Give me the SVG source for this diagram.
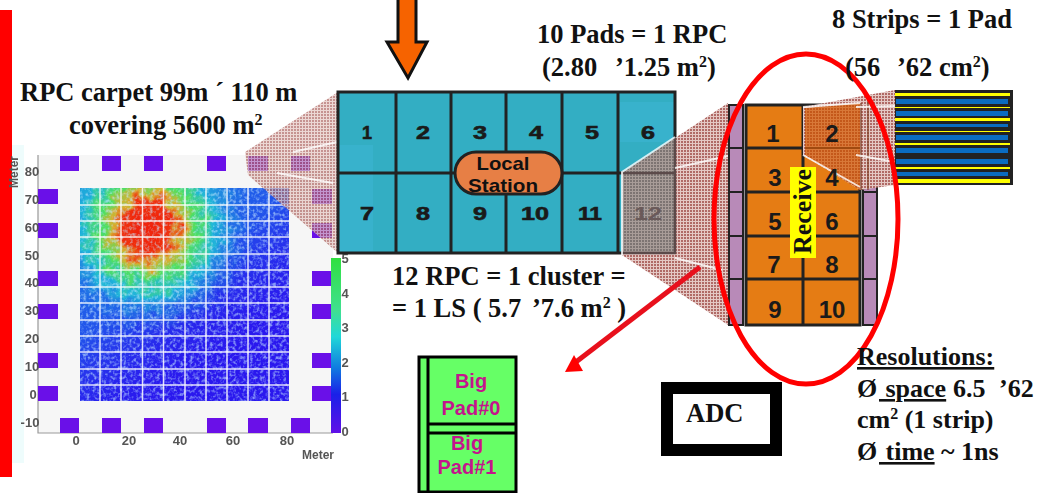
<svg xmlns="http://www.w3.org/2000/svg" width="1049" height="493" viewBox="0 0 1049 493">
<style>
.t{font-family:"Liberation Serif",serif;font-weight:bold;font-size:26.5px;fill:#111}
.s{font-size:16px}
.n{font-family:"Liberation Sans",sans-serif;font-weight:bold;text-anchor:middle;fill:#1a1a1a}
.r{font-size:18px;stroke:#1a1a1a;stroke-width:.6}.p{font-size:24px}
.m{font-family:"Liberation Sans",sans-serif;font-weight:bold;font-size:20px;fill:#c4148c;text-anchor:middle}
.ax{font-family:"Liberation Sans",sans-serif;font-weight:bold;font-size:13px;fill:#555;text-anchor:middle}
.sq{fill:#6a10e8}
.gl{stroke:#fff;stroke-width:1.5;opacity:.85}
.cell{fill:none;stroke:#222;stroke-width:3}
.wl{stroke:#fff;stroke-width:2;opacity:.8;fill:none}
</style>
<defs>
<pattern id="ht" width="3" height="3" patternUnits="userSpaceOnUse"><rect width="3" height="3" fill="#e4c8c4"/><rect width="2" height="2" fill="#b06a66"/></pattern>
<pattern id="hg" width="3" height="3" patternUnits="userSpaceOnUse"><rect width="3" height="3" fill="#a89c98"/><rect width="2" height="2" fill="#7d7472"/></pattern>
<pattern id="ho" width="3" height="3" patternUnits="userSpaceOnUse"><rect width="3" height="3" fill="#d87838"/><rect width="2" height="2" fill="#c4581a"/></pattern>
<radialGradient id="heat" gradientUnits="userSpaceOnUse" cx="148" cy="228" r="105">
<stop offset="0" stop-color="#f02010"/><stop offset=".24" stop-color="#f03010"/><stop offset=".34" stop-color="#d8b030"/><stop offset=".46" stop-color="#50e060"/><stop offset=".64" stop-color="#20b8d8"/><stop offset="1" stop-color="#2060e8" stop-opacity="0"/>
</radialGradient>
<linearGradient id="wash" x1="0" y1="0" x2=".6" y2=".9">
<stop offset="0" stop-color="#18a8e0"/><stop offset=".55" stop-color="#2060ea"/><stop offset="1" stop-color="#2a18ee" stop-opacity="0"/>
</linearGradient>
<linearGradient id="bar" x1="0" y1="0" x2="0" y2="1">
<stop offset="0" stop-color="#30e040"/><stop offset=".3" stop-color="#40e090"/><stop offset=".45" stop-color="#20d8d8"/><stop offset=".62" stop-color="#1080e0"/><stop offset=".78" stop-color="#1a20e8"/><stop offset="1" stop-color="#6010e8"/>
</linearGradient>
<clipPath id="field"><rect x="80" y="188" width="209" height="213"/></clipPath>
<filter id="rough" x="0" y="0" width="1" height="1"><feTurbulence type="fractalNoise" baseFrequency=".09" numOctaves="3" seed="7"/><feDisplacementMap in="SourceGraphic" scale="26" xChannelSelector="R" yChannelSelector="G"/></filter>
<filter id="speck" x="0" y="0" width="1" height="1"><feTurbulence type="fractalNoise" baseFrequency=".3" numOctaves="2" seed="4"/><feColorMatrix values="0 0 0 0 .55 0 0 0 0 .8 0 0 0 0 1 3 0 0 0 -1.35"/></filter>
<filter id="soft"><feGaussianBlur stdDeviation=".5"/></filter>
</defs>
<g id="red-bar"><rect x="0" y="10" width="12" height="467" fill="#f00"/><rect x="12" y="145" width="12" height="318" fill="#eefcfc"/></g>
<g id="heatmap">
<rect x="38" y="155" width="295" height="278" fill="#f6f6f6"/>
<path d="M38 155V433H333" fill="none" stroke="#999" stroke-width="1.2"/>
<g class="sq">
<rect x="60" y="156" width="19" height="15"/><rect x="102" y="156" width="19" height="15"/><rect x="144" y="156" width="19" height="15"/><rect x="207" y="156" width="19" height="15"/><rect x="248" y="156" width="20" height="15"/><rect x="291" y="156" width="19" height="15"/>
<rect x="60" y="418" width="19" height="15"/><rect x="102" y="418" width="19" height="15"/><rect x="144" y="418" width="19" height="15"/><rect x="207" y="418" width="19" height="15"/><rect x="248" y="418" width="20" height="15"/><rect x="291" y="418" width="19" height="15"/>
<rect x="38" y="189" width="20" height="15"/><rect x="38" y="223" width="20" height="15"/><rect x="38" y="271" width="20" height="15"/><rect x="38" y="304" width="20" height="15"/><rect x="38" y="353" width="20" height="15"/><rect x="38" y="386" width="20" height="15"/>
<rect x="312" y="189" width="20" height="15"/><rect x="312" y="223" width="20" height="15"/><rect x="312" y="271" width="20" height="15"/><rect x="312" y="304" width="20" height="15"/><rect x="312" y="353" width="20" height="15"/><rect x="312" y="386" width="20" height="15"/>
</g>
<rect x="80" y="188" width="209" height="213" fill="#2a18ee"/>
<g clip-path="url(#field)">
<rect x="80" y="188" width="209" height="213" fill="url(#wash)" opacity=".8"/>
<g filter="url(#rough)"><rect x="40" y="150" width="280" height="270" fill="url(#heat)"/></g>
<rect x="80" y="188" width="209" height="213" filter="url(#speck)" opacity=".6"/>
</g>
<g>
<line class="gl" x1="100" y1="188" x2="100" y2="401"/><line class="gl" x1="121" y1="188" x2="121" y2="401"/><line class="gl" x1="142.500" y1="188" x2="142.500" y2="401"/><line class="gl" x1="163.500" y1="188" x2="163.500" y2="401"/><line class="gl" x1="185" y1="188" x2="185" y2="401"/><line class="gl" x1="206" y1="188" x2="206" y2="401"/><line class="gl" x1="227" y1="188" x2="227" y2="401"/><line class="gl" x1="248" y1="188" x2="248" y2="401"/><line class="gl" x1="269" y1="188" x2="269" y2="401"/>
<line class="gl" x1="80" y1="205" x2="289" y2="205"/><line class="gl" x1="80" y1="221" x2="289" y2="221"/><line class="gl" x1="80" y1="237" x2="289" y2="237"/><line class="gl" x1="80" y1="254" x2="289" y2="254"/><line class="gl" x1="80" y1="270" x2="289" y2="270"/><line class="gl" x1="80" y1="287" x2="289" y2="287"/><line class="gl" x1="80" y1="303" x2="289" y2="303"/><line class="gl" x1="80" y1="320" x2="289" y2="320"/><line class="gl" x1="80" y1="336" x2="289" y2="336"/><line class="gl" x1="80" y1="352" x2="289" y2="352"/><line class="gl" x1="80" y1="369" x2="289" y2="369"/><line class="gl" x1="80" y1="385" x2="289" y2="385"/>
</g>
<rect x="331" y="258" width="10" height="175" fill="url(#bar)"/>
<g class="ax" filter="url(#soft)">
<text x="32" y="176">80</text><text x="32" y="204">70</text><text x="32" y="232">60</text><text x="32" y="260">50</text><text x="32" y="287">40</text><text x="32" y="315">30</text><text x="32" y="343">20</text><text x="32" y="371">10</text><text x="33" y="399">0</text><text x="30" y="427">-10</text>
<text x="76" y="445">0</text><text x="129" y="445">20</text><text x="180" y="445">40</text><text x="233" y="445">60</text><text x="287" y="445">80</text>
<text x="345" y="263">5</text><text x="345" y="298">4</text><text x="345" y="332">3</text><text x="345" y="367">2</text><text x="345" y="401">1</text><text x="345" y="436">0</text>
<text x="318" y="459" font-size="12">Meter</text>
<text transform="translate(18 172) rotate(-90)" font-size="12">Meter</text>
</g>
</g>
<g id="connectors">
<polygon points="245,152 338,92 338,253 248,175" fill="url(#ht)" fill-opacity=".72"/>
<path class="wl" d="M293 152L337 142M277 173L333 183"/>
</g>
<g id="rpc">
<rect x="338" y="92" width="337" height="161" fill="#33aec3"/>
<rect x="340" y="145" width="33" height="107" fill="#38b2cc"/>
<rect x="620" y="102" width="55" height="40" fill="#38b2cc"/>
<path class="cell" d="M396 92V253M451 92V253M506 92V253M562 92V253M618 92V253M338 173H675"/>
<rect class="cell" x="338" y="92" width="337" height="161"/>
<g class="n r">
<text x="367" y="139" textLength="10" lengthAdjust="spacingAndGlyphs">1</text><text x="423" y="139" textLength="14" lengthAdjust="spacingAndGlyphs">2</text><text x="480" y="139" textLength="14" lengthAdjust="spacingAndGlyphs">3</text><text x="536" y="139" textLength="14" lengthAdjust="spacingAndGlyphs">4</text><text x="592" y="139" textLength="14" lengthAdjust="spacingAndGlyphs">5</text><text x="648" y="139" textLength="14" lengthAdjust="spacingAndGlyphs">6</text>
<text x="367" y="220" textLength="14" lengthAdjust="spacingAndGlyphs">7</text><text x="423" y="220" textLength="14" lengthAdjust="spacingAndGlyphs">8</text><text x="480" y="220" textLength="14" lengthAdjust="spacingAndGlyphs">9</text><text x="535" y="220" textLength="28" lengthAdjust="spacingAndGlyphs">10</text><text x="590" y="220" textLength="24" lengthAdjust="spacingAndGlyphs">11</text>
</g>
</g>
<g id="rpc-overlay">
<polygon points="622,173 675,138 728,103 728,325 675,290 622,255" fill="url(#ht)"/>
<polygon points="622,173 675,138 675,253 622,253" fill="url(#hg)"/>
<path d="M622 173H675M675 138V253H622" stroke="#5c4a4a" stroke-width="2.500" fill="none"/>
<path class="wl" d="M622 255V172L675 137M675 168L728 156M675 258L722 270"/>
<text x="648" y="220" class="n" font-size="18" style="fill:#6a5a5a" textLength="28" lengthAdjust="spacingAndGlyphs">12</text>
</g>
<g id="local-station">
<rect x="455" y="152" width="107" height="42" rx="21" fill="#e77f45" stroke="#222" stroke-width="3"/>
<text x="503" y="170" class="n" font-size="19" style="fill:#111" textLength="53" lengthAdjust="spacingAndGlyphs">Local</text>
<text x="503" y="191.500" class="n" font-size="19" style="fill:#111" textLength="70" lengthAdjust="spacingAndGlyphs">Station</text>
</g>
<g id="orange-arrow"><polygon points="398,-4 398,42 387,42 408,78 427,42 416,42 416,-4" fill="#f66300" stroke="#111" stroke-width="3"/></g>
<g id="pad-block">
<rect x="729" y="105" width="14" height="220" fill="#b88ab8" stroke="#222" stroke-width="2"/>
<path d="M729 148H743M729 192H743M729 236H743M729 279H743" stroke="#222" stroke-width="2"/>
<rect x="746" y="105" width="114" height="220" fill="#e57c14"/>
<path class="cell" d="M746 148H860M746 192H860M746 236H860M746 279H860M803 105V325"/>
<rect class="cell" x="746" y="105" width="114" height="220"/>
<rect x="863" y="105" width="14" height="220" fill="#b88ab8" stroke="#222" stroke-width="2"/>
<path d="M863 148H877M863 192H877M863 236H877M863 279H877" stroke="#222" stroke-width="2"/>
<polygon points="803,107 895,90 895,185 860,190 803,155" fill="url(#ht)"/>
<polygon points="805,108 860,103 860,190 805,155" fill="url(#ho)"/>
<path d="M805 148H860" stroke="#a04a10" stroke-width="2"/>
<path d="M861 103V190M868 100V190" stroke="#7a3a20" stroke-width="2" opacity=".6"/>
<path class="wl" d="M803 107L860 103M895 106L856 107M803 155L860 187M856 155L895 162"/>
<g class="n p">
<text x="773" y="142">1</text><text x="832" y="142">2</text><text x="775" y="186">3</text><text x="832" y="186">4</text><text x="775" y="230">5</text><text x="832" y="230">6</text><text x="774" y="273">7</text><text x="832" y="273">8</text><text x="775" y="318">9</text><text x="832" y="318">10</text>
</g>
<rect x="790" y="167" width="26" height="91" fill="#ff0"/>
<text class="t" transform="translate(811 254) rotate(-90)" style="font-size:26px">Receive</text>
</g>
<g id="strips">
<rect x="895" y="90" width="118" height="95" fill="#222"/>
<g fill="#ff0"><rect x="895" y="93" width="115" height="3"/><rect x="895" y="107" width="115" height="1"/><rect x="895" y="118" width="115" height="3"/><rect x="895" y="131" width="115" height="1"/><rect x="895" y="143" width="115" height="2"/><rect x="895" y="167" width="115" height="2"/><rect x="895" y="179" width="115" height="4"/></g>
<g fill="#0a6cc0"><rect x="896" y="99" width="112" height="5"/><rect x="896" y="111" width="112" height="5"/><rect x="896" y="124" width="112" height="3"/><rect x="896" y="135" width="112" height="5"/><rect x="896" y="148" width="112" height="5"/><rect x="896" y="159" width="112" height="5"/><rect x="896" y="172" width="112" height="4"/></g>
</g>
<g id="red-ellipse"><ellipse cx="806" cy="219" rx="92" ry="165" fill="none" stroke="#f00" stroke-width="5"/></g>
<g id="red-arrow"><line x1="700" y1="267" x2="572" y2="365" stroke="#e8101c" stroke-width="5"/><polygon points="565,372 574,355 583,371" fill="#f00"/></g>
<g id="big-pads">
<rect x="419" y="357" width="97" height="135" fill="#66ff66" stroke="#000" stroke-width="3"/>
<path d="M428 357V492M428 424H516M428 433H516" stroke="#000" stroke-width="3" fill="none"/>
<text class="m" x="471" y="388">Big</text><text class="m" x="471" y="415">Pad#0</text><text class="m" x="467" y="450">Big</text><text class="m" x="467" y="474">Pad#1</text>
</g>
<g id="adc">
<rect x="667" y="388" width="109" height="62" fill="#fff" stroke="#000" stroke-width="12"/>
<text class="t" x="686" y="422">ADC</text>
</g>
<g id="labels">
<text class="t" x="20" y="101">RPC carpet 99m ´ 110 m</text>
<text class="t" x="69" y="134">covering 5600 m<tspan class="s" dy="-9">2</tspan></text>
<text class="t" x="537" y="43">10 Pads = 1 RPC</text>
<text class="t" x="542" y="76">(2.80<tspan x="615">’1.25 m</tspan><tspan class="s" dy="-9">2</tspan><tspan dy="9">)</tspan></text>
<text class="t" x="832" y="28">8 Strips = 1 Pad</text>
<text class="t" x="845" y="76">(56<tspan x="897">’62 cm</tspan><tspan class="s" dy="-9">2</tspan><tspan dy="9">)</tspan></text>
<text class="t" x="392" y="285">12 RPC = 1 cluster =</text>
<text class="t" x="392" y="317">= 1 LS ( 5.7<tspan x="532">’7.6 m</tspan><tspan class="s" dy="-9">2</tspan><tspan dy="9"> )</tspan></text>
<text class="t" x="857" y="365" text-decoration="underline" style="font-size:26px">Resolutions:</text>
<text class="t" x="857" y="397" style="font-size:26px">Ø<tspan x="879" text-decoration="underline">&#160;space</tspan><tspan x="953">6.5</tspan><tspan x="999">’62</tspan></text>
<text class="t" x="857" y="428" style="font-size:26px">cm<tspan class="s" dy="-9">2</tspan><tspan dy="9"> (1 strip)</tspan></text>
<text class="t" x="857" y="460" style="font-size:26px">Ø<tspan x="879" text-decoration="underline">&#160;time</tspan><tspan> ~ 1ns</tspan></text>
</g>
</svg>
